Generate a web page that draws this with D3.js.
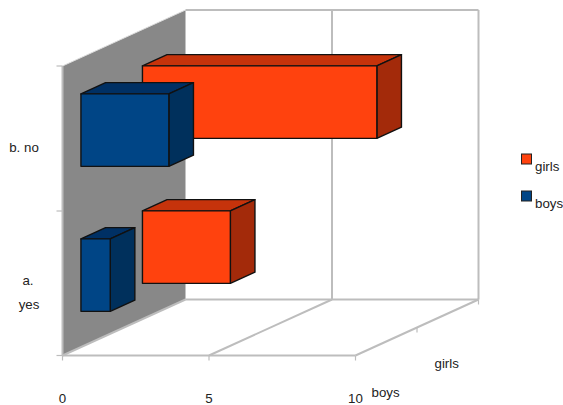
<!DOCTYPE html>
<html><head><meta charset="utf-8">
<script src="https://cdn.jsdelivr.net/npm/d3@7"></script>
<style>html,body{margin:0;padding:0;background:#fff}svg{display:block}text{font-family:"Liberation Sans",Arial,sans-serif;font-size:13.3px;fill:#222}</style>
</head><body><div id="c"></div>
<script>
const categories = ["a. yes", "b. no"];
const series = ["boys", "girls"];
const boysValues = [1, 3];
const girlsValues = [3, 8];
const xTicks = [0, 5, 10];

const W = 563, H = 405;
const svg = d3.select("#c").append("svg").attr("width", W).attr("height", H);
const x = d3.scaleLinear().domain([0, 10]).range([62.5, 355.5]);
const y = d3.scaleBand().domain(categories).range([356, 66]);
const depthX = d3.scaleLinear().domain([0, 2]).range([0, 123]);
const depthY = d3.scaleLinear().domain([0, 2]).range([0, -56]);
const inner = 0.25, barH = y.bandwidth() * 0.5;
const grid = "#bdbdbd";
const floorY = 355.5;

function p(v, yy, d) { return [x(v) + depthX(d), yy + depthY(d)]; }
const line = a => "M" + a.map(q => q.join(",")).join("L") + "Z";

// wall
svg.append("path").attr("d", line([p(0, 66, 0), p(0, 66, 2), p(0, floorY, 2), p(0, floorY, 0)])).attr("fill", "#888888");

// back wall top, bottom, grid verticals and floor lines
const g = svg.append("g").attr("fill", "none").attr("stroke", grid).attr("stroke-width", 2);
xTicks.forEach(t => {
  if (t > 0) g.append("path").attr("d", "M" + p(t, 66, 2) + "L" + p(t, floorY, 2));
  g.append("path").attr("d", "M" + p(t, floorY, 0) + "L" + p(t, floorY, 2));
});
g.append("path").attr("d", "M" + p(0, 66, 2) + "L" + p(10, 66, 2));
g.append("path").attr("d", "M" + p(0, floorY, 2) + "L" + p(10, floorY, 2));
g.append("path").attr("d", "M" + p(0, floorY, 0) + "L" + p(10, floorY, 0));
g.append("path").attr("d", "M" + p(0, 66, 2) + "L" + p(0, 66, 0)).attr("stroke-width", 1).attr("stroke", "#ddd");
g.append("path").attr("d", "M" + p(0, 66, 0) + "L" + p(0, floorY, 0));

// ticks
const tk = svg.append("g").attr("stroke", grid).attr("stroke-width", 1.2).attr("fill", "none");
[floorY, y(categories[0]), y(categories[1])].forEach(v => {
  tk.append("line").attr("x1", x(0) - 6).attr("x2", x(0)).attr("y1", v).attr("y2", v);
});
xTicks.forEach(t => tk.append("line").attr("x1", x(t)).attr("x2", x(t)).attr("y1", floorY).attr("y2", floorY + 5));
[1, 2].forEach(d => {
  const q = p(10, floorY, d);
  tk.append("line").attr("x1", q[0]).attr("x2", q[0]).attr("y1", q[1]).attr("y2", q[1] + 5);
});

// bars
const colors = {
  boys: {front: "#004586", top: "#003064", side: "#00305c"},
  girls: {front: "#ff420e", top: "#c6330b", side: "#a32a0a"}
};
const vals = {boys: boysValues, girls: girlsValues};
const bars = svg.append("g").attr("stroke", "#111").attr("stroke-width", 1.4).attr("stroke-linejoin", "round");
["girls", "boys"].forEach(s => {
  const di = series.indexOf(s), d0 = di + 0.3, d1 = di + 0.7, c = colors[s];
  categories.forEach((cat, i) => {
    const v = vals[s][i];
    const b = y(cat) + y.bandwidth() * (1 - inner);
    const t = b - barH;
    bars.append("path").attr("fill", c.top).attr("d", line([p(0, t, d0), p(v, t, d0), p(v, t, d1), p(0, t, d1)]));
    bars.append("path").attr("fill", c.side).attr("d", line([p(v, t, d0), p(v, t, d1), p(v, b, d1), p(v, b, d0)]));
    bars.append("path").attr("fill", c.front).attr("d", line([p(0, t, d0), p(v, t, d0), p(v, b, d0), p(0, b, d0)]));
  });
});

// axis labels
xTicks.forEach(t => svg.append("text").attr("x", x(t)).attr("y", 403).attr("text-anchor", "middle").text(t));
svg.append("text").attr("x", 24).attr("y", 152).attr("text-anchor", "middle").text("b. no");
svg.append("text").attr("x", 28).attr("y", 285).attr("text-anchor", "middle").text("a.");
svg.append("text").attr("x", 29).attr("y", 309).attr("text-anchor", "middle").text("yes");
svg.append("text").attr("x", 371.5).attr("y", 397).text("boys");
svg.append("text").attr("x", 434.5).attr("y", 368).text("girls");

// legend
[["girls", 154, 171], ["boys", 191, 208]].forEach(([s, ys, yt]) => {
  svg.append("rect").attr("x", 521.5).attr("y", ys).attr("width", 10).attr("height", 10)
    .attr("fill", colors[s].front).attr("stroke", "#222").attr("stroke-width", 1);
  svg.append("text").attr("x", 535).attr("y", yt).text(s);
});
</script></body></html>
